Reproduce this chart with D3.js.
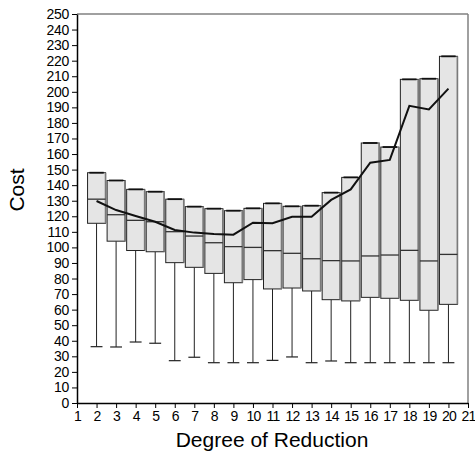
<!DOCTYPE html>
<html><head><meta charset="utf-8">
<script src="https://cdn.jsdelivr.net/npm/d3@7"></script>
<style>body{margin:0;background:#fff}svg{display:block}</style>
</head><body>
<script>
const categories = [2,3,4,5,6,7,8,9,10,11,12,13,14,15,16,17,18,19,20];
const boxMax    = [148,143,137.3,135.8,131,126.2,124.9,123.6,125.1,128.3,126.4,126.8,135.2,145,167.1,164.5,208,208.4,222.8];
const boxMedian = [131,121,117.4,116.5,110.1,107.3,103,100.5,100,97.9,96.2,92.7,91.5,91.3,94.5,95.1,98.1,91.3,95.5];
const boxQ1     = [115.5,104,98,97.2,90.2,87.2,83.3,77.3,79.3,73.3,73.9,72,66.4,65.6,67.9,67.3,66,59.6,63.4];
const boxMin    = [36.2,36,39.2,38.4,27.2,29.4,25.9,25.9,25.9,27.4,29.6,25.9,27,25.9,25.9,25.9,25.9,25.9,25.9];
const meanLine  = [129.8,124,120.2,116.5,111.2,109.5,108.6,108.2,115.9,115.5,119.7,119.7,130.5,137.3,154.4,156.2,191,188.7,202];
const yTicks = d3.range(0,251,10);
const xTicks = d3.range(1,22,1);

const W=475,H=454;
const m={l:77,r:7,t:14,b:51};
const svg=d3.select("body").append("svg").attr("width",W).attr("height",H)
  .style("font-family","'Liberation Sans', Arial, sans-serif");
const x=d3.scaleLinear().domain([1,21]).range([m.l,W-m.r]);
const y=d3.scaleLinear().domain([0,250]).range([H-m.b,m.t]);
const bw=(x(2)-x(1))*0.92;

// frame top/right gray
svg.append("line").attr("x1",x(1)).attr("x2",x(21)).attr("y1",y(250)).attr("y2",y(250)).attr("stroke","#808080").attr("stroke-width",1.5);
svg.append("line").attr("x1",x(21)).attr("x2",x(21)).attr("y1",y(250)).attr("y2",y(0)).attr("stroke","#808080").attr("stroke-width",1.5);

const g=svg.append("g");
categories.forEach((c,i)=>{
  const cx=x(c), x0=cx-bw/2;
  g.append("line").attr("x1",cx).attr("x2",cx).attr("y1",y(boxQ1[i])).attr("y2",y(boxMin[i])).attr("stroke","#222").attr("stroke-width",1);
  g.append("line").attr("x1",cx-bw*0.33).attr("x2",cx+bw*0.33).attr("y1",y(boxMin[i])).attr("y2",y(boxMin[i])).attr("stroke","#222").attr("stroke-width",1.2);
  g.append("rect").attr("x",x0).attr("y",y(boxMax[i])).attr("width",bw).attr("height",y(boxQ1[i])-y(boxMax[i]))
   .attr("fill","#e5e5e5").attr("stroke","#222").attr("stroke-width",1);
  g.append("line").attr("x1",x0+bw).attr("x2",x0+bw).attr("y1",y(boxMax[i])).attr("y2",y(boxQ1[i])).attr("stroke","#7a7a7a").attr("stroke-width",1.6);
  g.append("line").attr("x1",x0+bw*0.1).attr("x2",x0+bw*0.9).attr("y1",y(boxMax[i])).attr("y2",y(boxMax[i])).attr("stroke","#111").attr("stroke-width",1.8);
  g.append("line").attr("x1",x0).attr("x2",x0+bw).attr("y1",y(boxMedian[i])).attr("y2",y(boxMedian[i])).attr("stroke","#333").attr("stroke-width",1.3);
});
svg.append("path").datum(categories.map((c,i)=>[c,meanLine[i]]))
  .attr("d",d3.line().x(d=>x(d[0])).y(d=>y(d[1])))
  .attr("fill","none").attr("stroke","#111").attr("stroke-width",2);

const yAxis=svg.append("g").attr("transform",`translate(${m.l},0)`)
  .call(d3.axisLeft(y).tickValues(yTicks).tickSize(5).tickPadding(3).tickSizeOuter(0));
const xAxis=svg.append("g").attr("transform",`translate(0,${H-m.b})`)
  .call(d3.axisBottom(x).tickValues(xTicks).tickSize(5).tickPadding(3).tickSizeOuter(0).tickFormat(d3.format("d")));
[yAxis,xAxis].forEach(a=>{
  a.selectAll("path").attr("stroke","#000").attr("stroke-width",1.5);
  a.selectAll("line").attr("stroke","#000");
  a.selectAll("text").attr("fill","#000").style("font-size","14px").style("font-family","'Liberation Sans', Arial, sans-serif");
});
yAxis.selectAll("text").attr("letter-spacing","-0.3px");
xAxis.selectAll("text").attr("letter-spacing","-0.8px");

svg.append("text").attr("x",272).attr("y",447).attr("text-anchor","middle")
  .style("font-size","21px").attr("fill","#000").text("Degree of Reduction");
svg.append("text").attr("transform","translate(24,190) rotate(-90)").attr("text-anchor","middle")
  .style("font-size","21px").attr("fill","#000").text("Cost");
</script>
</body></html>
